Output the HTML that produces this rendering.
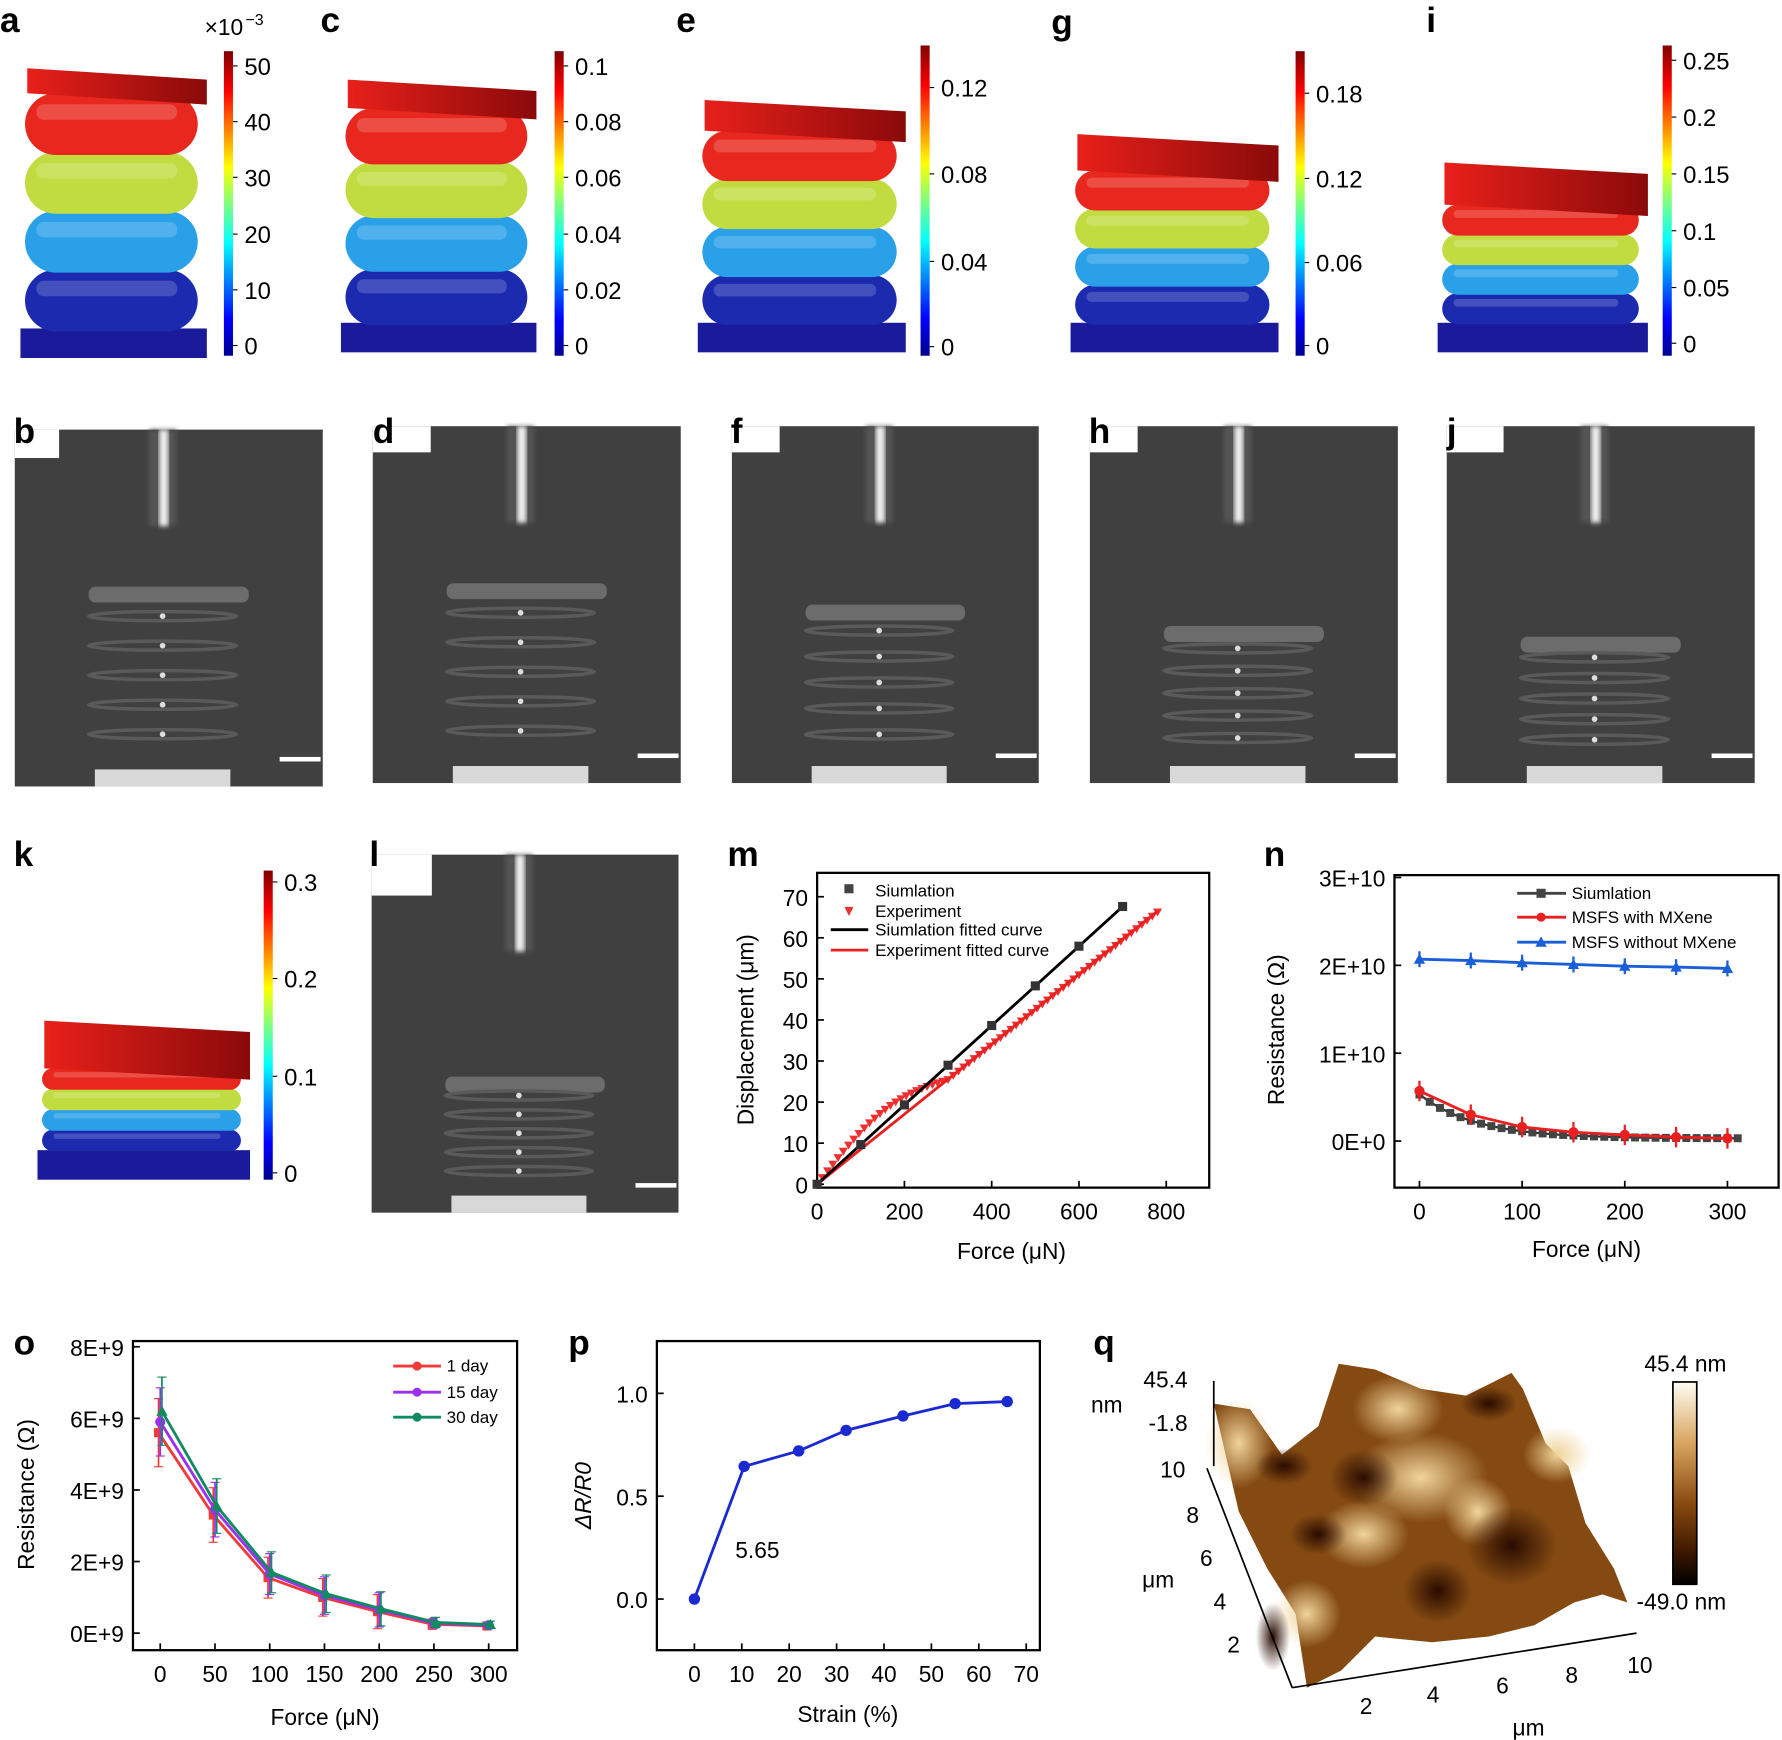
<!DOCTYPE html>
<html><head><meta charset="utf-8">
<style>
html,body{margin:0;padding:0;background:#fff;}
svg{display:block;}
text{font-family:"Liberation Sans",Arial,sans-serif;}
</style></head>
<body>
<svg id="s" width="1782" height="1740" viewBox="0 0 1568 1531" xmlns="http://www.w3.org/2000/svg">
<defs>
<linearGradient id="jet" x1="0" y1="1" x2="0" y2="0">
<stop offset="0" stop-color="#00008f"/><stop offset="0.12" stop-color="#0000ff"/>
<stop offset="0.37" stop-color="#00ffff"/><stop offset="0.5" stop-color="#7fff7f"/>
<stop offset="0.62" stop-color="#ffff00"/><stop offset="0.87" stop-color="#ff0000"/>
<stop offset="1" stop-color="#800000"/></linearGradient>
<linearGradient id="plate" x1="0" y1="0" x2="1" y2="0">
<stop offset="0" stop-color="#e8201a"/><stop offset="1" stop-color="#8a0a0a"/></linearGradient>
<linearGradient id="afm" x1="0" y1="0" x2="0" y2="1">
<stop offset="0" stop-color="#fffdf2"/><stop offset="0.3" stop-color="#d9a560"/>
<stop offset="0.6" stop-color="#8a4a10"/><stop offset="0.85" stop-color="#3a1600"/>
<stop offset="1" stop-color="#000"/></linearGradient>
<radialGradient id="hl"><stop offset="0" stop-color="#f0d49a"/><stop offset="1" stop-color="#f0d49a" stop-opacity="0"/></radialGradient>
<radialGradient id="dk"><stop offset="0" stop-color="#2a0c00"/><stop offset="1" stop-color="#2a0c00" stop-opacity="0"/></radialGradient>
<filter id="bl"><feGaussianBlur stdDeviation="2"/></filter>
</defs>
<g id="g"></g>
</svg>
<script>
var g=document.getElementById('g'),NS="http://www.w3.org/2000/svg";
function el(t,a,txt){var e=document.createElementNS(NS,t);for(var k in a)e.setAttribute(k,a[k]);if(txt!==undefined)e.textContent=txt;g.appendChild(e);return e;}
function tx(x,y,s,o){o=o||{};var a={x:x,y:y,'font-size':o.fs||20,fill:o.fill||'#000'};if(o.a)a['text-anchor']=o.a;if(o.b)a['font-weight']='bold';if(o.tr)a.transform=o.tr;if(o.fi)a['font-style']='italic';return el('text',a,s);}
// springs
function spring(x,w,y0,pb,y1){
  var base=y1-26;el('rect',{x:x,y:base,width:w,height:26,fill:'#1a1a9a'});
  var top=pb, span=base-top, n=4, cols=['#1c2ab0','#2aa0e8','#c0dc40','#e8281e'];
  var h=span/n*1.05;
  for(var i=0;i<n;i++){var yy=base-(i+1)*span/n;
    el('rect',{x:x+4,y:yy,width:w-12,height:h,rx:h/2,fill:cols[i]});
    el('rect',{x:x+14,y:yy+h*0.18,width:w-40,height:h*0.25,rx:h*0.12,fill:'#fff',opacity:0.18});}
  el('polygon',{points:(x+6)+','+y0+' '+(x+w)+','+(y0+10)+' '+(x+w)+','+(pb+10)+' '+(x+6)+','+pb,fill:'url(#plate)'});
}
spring(18,164,60,82,315);spring(300,172,70,95,310);spring(614,183,88,115,310);spring(942,183,118,150,310);spring(1265,185,143,180,310);spring(33,187,898,940,1038);
function cbar(x,y0,y1,labs){el('rect',{x:x,y:y0,width:8,height:y1-y0,fill:'url(#jet)'});
 labs.forEach(function(l){el('line',{x1:x+8,y1:l[1],x2:x+12,y2:l[1],stroke:'#000'});tx(x+18,l[1]+8,l[0],{fs:21});});}
cbar(197,45,313,[['50',58],['40',107],['30',156],['20',206],['10',255],['0',304]]);
tx(180,31,'×10',{fs:20});tx(216,22,'−3',{fs:14});
cbar(488,45,313,[['0.1',58],['0.08',107],['0.06',156],['0.04',206],['0.02',255],['0',304]]);
cbar(810,40,313,[['0.12',77],['0.08',153],['0.04',230],['0',305]]);
cbar(1140,45,313,[['0.18',82],['0.12',157],['0.06',231],['0',304]]);
cbar(1463,40,313,[['0.25',53],['0.2',103],['0.15',153],['0.1',203],['0.05',253],['0',302]]);
cbar(232,766,1038,[['0.3',776],['0.2',861],['0.1',947],['0',1032]]);
// photos
function photo(x,y,w,h,nw,nh,sq){
 el('rect',{x:x,y:y,width:w,height:h,fill:'#404040'});
 el('rect',{x:x,y:y,width:nw,height:nh,fill:'#fff'});
 var cx=x+w*0.48;
 el('rect',{x:cx-12,y:y,width:24,height:h*0.27,fill:'#555',filter:'url(#bl)'});
 el('rect',{x:cx-3,y:y,width:8,height:h*0.27,fill:'#f0f0f0',filter:'url(#bl)'});
 var ct=y+h*(0.44+sq*0.06);
 el('rect',{x:x+w*0.24,y:ct,width:w*0.52,height:14,rx:6,fill:'#777',opacity:0.8});
 for(var i=1;i<6;i++){var yy=ct+i*(y+h-ct-20)/6;el('ellipse',{cx:cx,cy:yy,rx:w*0.24,ry:4,fill:'none',stroke:'#5a5a5a','stroke-width':3});el('circle',{cx:cx,cy:yy,r:2.5,fill:'#ddd'});}
 el('rect',{x:x+w*0.26,y:y+h-15,width:w*0.44,height:15,fill:'#d8d8d8'});
 el('rect',{x:x+w*0.86,y:y+h-26,width:36,height:4,fill:'#fff'});
}
photo(13,378,271,314,39,25,0);photo(328,375,271,314,51,23,0);photo(644,375,270,314,42,23,1);photo(959,375,271,314,42,23,2);photo(1273,375,271,314,50,23,2.5);photo(327,752,270,315,53,36,3);
// axis helper
function box(x0,y0,x1,y1){el('rect',{x:x0,y:y0,width:x1-x0,height:y1-y0,fill:'none',stroke:'#000','stroke-width':2});}
function xt(x,y,l){el('line',{x1:x,y1:y,x2:x,y2:y-6,stroke:'#000','stroke-width':1.5});tx(x,y+28,l,{a:'middle'});}
function yt(x,y,l){el('line',{x1:x,y1:y,x2:x+6,y2:y,stroke:'#000','stroke-width':1.5});tx(x-8,y+8,l,{a:'end'});}
function pl(pts,c,w){el('polyline',{points:pts.map(function(p){return p.join(',')}).join(' '),fill:'none',stroke:c,'stroke-width':w||2.5});}
// m
box(719,768,1064,1045);
var mx=function(f){return 719+f*0.384},my=function(d){return 1042-d*3.614};
[0,200,400,600,800].forEach(function(v){xt(mx(v),1045,v);});
for(var v=0;v<=70;v+=10)yt(719,my(v),v);
tx(890,1108,'Force (μN)',{a:'middle'});tx(663,906,'Displacement (μm)',{a:'middle',tr:'rotate(-90 663 906)'});
for(var f=0;f<=780;f+=12){var d=f*0.085+ (f<300?Math.sin(f/300*Math.PI)*5:0);el('polygon',{points:(mx(f)-4)+','+(my(d)-3)+' '+(mx(f)+4)+','+(my(d)-3)+' '+mx(f)+','+(my(d)+4),fill:'#f03030'});}
pl([[mx(0),my(0)],[mx(780),my(66.5)]],'#e82020');
pl([[mx(0),my(0)],[mx(700),my(67.6)]],'#000');
for(f=0;f<=700;f+=100)el('rect',{x:mx(f)-4,y:my(f*0.0966)-4,width:8,height:8,fill:'#333'});
el('rect',{x:743,y:778,width:8,height:8,fill:'#444'});tx(770,789,'Siumlation',{fs:15});
el('polygon',{points:'743,798 751,798 747,806',fill:'#f03030'});tx(770,807,'Experiment',{fs:15});
pl([[731,818],[764,818]],'#000');tx(770,823,'Siumlation fitted curve',{fs:15});
pl([[731,836],[764,836]],'#e82020');tx(770,841,'Experiment fitted curve',{fs:15});
// n
box(1227,770,1565,1045);
var nx=function(f){return 1249+f*0.9033},ny=function(r){return 1004-r*7.73};
[0,100,200,300].forEach(function(v){xt(nx(v),1045,v);});
[['0E+0',0],['1E+10',10],['2E+10',20],['3E+10',30]].forEach(function(a){yt(1227,ny(a[1]),a[0]);});
tx(1396,1106,'Force (μN)',{a:'middle'});tx(1130,906,'Resistance (Ω)',{a:'middle',tr:'rotate(-90 1130 906)'});
var bl=[20.7,20.55,20.3,20.1,19.9,19.8,19.65],rd=[5.7,3.0,1.6,1.0,0.7,0.45,0.3];
var B=[],R=[],K=[];for(var i=0;i<7;i++){B.push([nx(i*50),ny(bl[i])]);R.push([nx(i*50),ny(rd[i])]);}
for(f=0;f<=310;f+=10){K.push([nx(f),ny(0.3+5.0*Math.exp(-f/55))]);}
pl(K,'#333',2);K.forEach(function(p){el('rect',{x:p[0]-3.5,y:p[1]-3.5,width:7,height:7,fill:'#444'});});
pl(R,'#e82020');R.forEach(function(p){el('line',{x1:p[0],y1:p[1]-9,x2:p[0],y2:p[1]+9,stroke:'#e82020','stroke-width':2});el('circle',{cx:p[0],cy:p[1],r:4.5,fill:'#e82020'});});
pl(B,'#1a5fd8');B.forEach(function(p){el('line',{x1:p[0],y1:p[1]-7,x2:p[0],y2:p[1]+7,stroke:'#1a5fd8','stroke-width':2});el('polygon',{points:(p[0]-5)+','+(p[1]+4)+' '+(p[0]+5)+','+(p[1]+4)+' '+p[0]+','+(p[1]-5),fill:'#1a5fd8'});});
pl([[1335,786],[1378,786]],'#444');el('rect',{x:1352,y:782,width:8,height:8,fill:'#444'});tx(1383,791,'Siumlation',{fs:15});
pl([[1335,807],[1378,807]],'#e82020');el('circle',{cx:1356,cy:807,r:4,fill:'#e82020'});tx(1383,812,'MSFS with MXene',{fs:15});
pl([[1335,829],[1378,829]],'#1a5fd8');el('polygon',{points:'1351,833 1361,833 1356,824',fill:'#1a5fd8'});tx(1383,834,'MSFS without MXene',{fs:15});
// o
box(117,1180,455,1452);
var ox=function(f){return 141+f*0.9633},oy=function(r){return 1437-r*31.5};
[0,50,100,150,200,250,300].forEach(function(v){xt(ox(v),1452,v);});
[0,2,4,6,8].forEach(function(v){yt(117,oy(v),v+'E+9');});
tx(286,1518,'Force (μN)',{a:'middle'});tx(30,1315,'Resistance (Ω)',{a:'middle',tr:'rotate(-90 30 1315)'});
var od=[[5.6,3.3,1.55,1.0,0.6,0.25,0.2],[5.9,3.45,1.65,1.05,0.65,0.28,0.22],[6.2,3.55,1.7,1.1,0.68,0.3,0.24]],oc=['#f03a3a','#9a30f0','#108a60'];
od.forEach(function(s,j){var P=s.map(function(v,i){return [ox(i*50)+(j-1)*1.5,oy(v)];});
 P.forEach(function(p,i){var e=[1,0.8,0.6,0.55,0.5,0.15,0.1][i]*30;el('line',{x1:p[0],y1:p[1]-e,x2:p[0],y2:p[1]+e,stroke:oc[j],'stroke-width':1.5});el('line',{x1:p[0]-4,y1:p[1]-e,x2:p[0]+4,y2:p[1]-e,stroke:oc[j]});el('line',{x1:p[0]-4,y1:p[1]+e,x2:p[0]+4,y2:p[1]+e,stroke:oc[j]});});
 pl(P,oc[j]);P.forEach(function(p){if(j==0)el('rect',{x:p[0]-4,y:p[1]-4,width:8,height:8,fill:oc[j]});else if(j==1)el('circle',{cx:p[0],cy:p[1],r:4.5,fill:oc[j]});else el('polygon',{points:(p[0]-5)+','+(p[1]+4)+' '+(p[0]+5)+','+(p[1]+4)+' '+p[0]+','+(p[1]-5),fill:oc[j]});});});
[['1 day',1202],['15 day',1225],['30 day',1247]].forEach(function(a,j){pl([[346,a[1]],[388,a[1]]],oc[j]);el('circle',{cx:367,cy:a[1],r:4,fill:oc[j]});tx(393,a[1]+5,a[0],{fs:15});});
// p
box(578,1180,915,1452);
var px=function(s){return 611+s*4.171},py=function(v){return 1407-v*181};
[0,10,20,30,40,50,60,70].forEach(function(v){xt(px(v),1452,v);});
[['0.0',0],['0.5',0.5],['1.0',1]].forEach(function(a){yt(578,py(a[1]),a[0]);});
tx(746,1515,'Strain (%)',{a:'middle'});tx(520,1316,'ΔR/R0',{a:'middle',fi:1,tr:'rotate(-90 520 1316)'});
var PP=[[0,0],[10.5,0.645],[22,0.72],[32,0.82],[44,0.89],[55,0.95],[66,0.96]].map(function(a){return [px(a[0]),py(a[1])];});
pl(PP,'#1a2ad0');PP.forEach(function(p){el('circle',{cx:p[0],cy:p[1],r:5,fill:'#1a2ad0'});});
tx(647,1371,'5.65',{});
// q
el('polygon',{points:'1068,1235 1100,1240 1128,1280 1160,1255 1178,1200 1210,1205 1250,1222 1290,1228 1330,1208 1340,1222 1360,1270 1380,1290 1395,1340 1420,1380 1432,1410 1410,1403 1385,1410 1350,1430 1310,1440 1260,1445 1210,1440 1180,1470 1150,1485 1140,1420 1115,1380 1090,1330',fill:'#844a12'});
[[1230,1240,40,30,'hl'],[1200,1350,40,30,'hl'],[1300,1330,30,30,'hl'],[1090,1270,30,40,'hl'],[1370,1280,30,25,'hl'],[1250,1300,60,40,'hl'],[1150,1420,30,30,'hl'],[1130,1290,25,16,'dk'],[1330,1360,40,35,'dk'],[1265,1400,30,28,'dk'],[1200,1300,30,25,'dk'],[1160,1350,25,18,'dk'],[1310,1235,25,15,'dk'],[1120,1440,15,30,'dk']].forEach(function(a){el('ellipse',{cx:a[0],cy:a[1],rx:a[2],ry:a[3],fill:'url(#'+a[4]+')'});});
pl([[1068,1215],[1068,1290]],'#000',1.5);pl([[1062,1292],[1137,1485]],'#000',1.5);pl([[1137,1485],[1440,1437]],'#000',1.5);
tx(1045,1221,'45.4',{a:'end'});tx(1045,1259,'-1.8',{a:'end'});tx(960,1243,'nm',{});
[['10',1292],['8',1332],['6',1370],['4',1408],['2',1446]].forEach(function(a,i){tx(1043+i*12,a[1]+8,a[0],{a:'end'});});
tx(1005,1397,'μm',{});
[['2',1202,1508],['4',1261,1498],['6',1322,1490],['8',1383,1481],['10',1443,1472]].forEach(function(a){tx(a[1],a[2],a[0],{a:'middle'});});
tx(1345,1527,'μm',{a:'middle'});
el('rect',{x:1472,y:1216,width:21,height:178,fill:'url(#afm)',stroke:'#000','stroke-width':1.5});
tx(1483,1207,'45.4 nm',{a:'middle'});tx(1440,1416,'-49.0 nm',{});
// panel letters last
[['a',0,28],['c',282,28],['e',595,28],['g',925,30],['i',1255,28],['b',12,390],['d',328,390],['f',643,390],['h',958,390],['j',1273,390],['k',12,762],['l',325,762],['m',640,762],['n',1112,762],['o',12,1192],['p',500,1192],['q',962,1192]].forEach(function(p){tx(p[1],p[2],p[0],{fs:31,b:1});});
</script>
</body></html>
